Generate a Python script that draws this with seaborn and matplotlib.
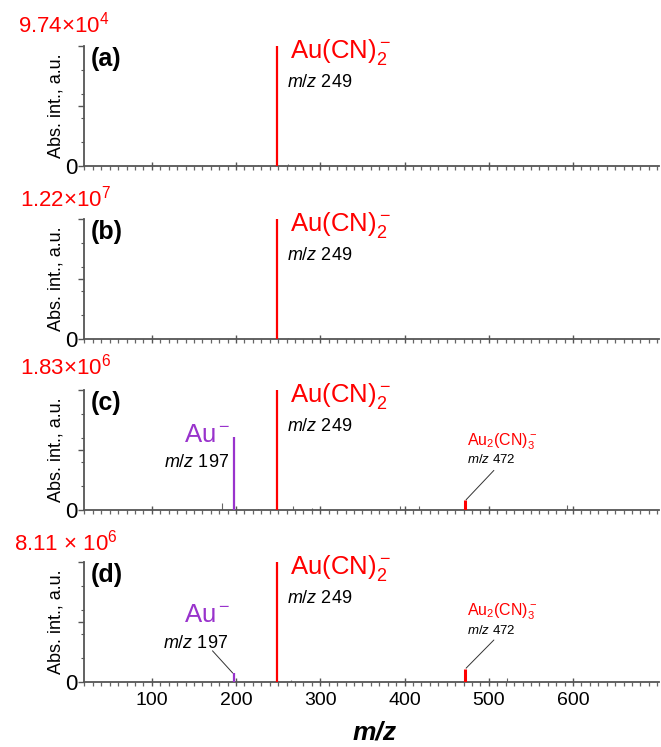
import matplotlib
matplotlib.use("Agg")
import matplotlib.pyplot as plt
import seaborn as sns
import numpy as np
import pandas as pd
from matplotlib.ticker import FixedLocator, NullFormatter, FixedFormatter

# ---------------- data ----------------
panels = ["(a)", "(b)", "(c)", "(d)"]
scales = ["9.74×10$^4$", "1.22×10$^7$", "1.83×10$^6$", "8.11 × 10$^6$"]

main_mz = 249
main_height = [1.0, 1.0, 1.0, 1.0]

au_mz = 197
au_height = [0.0, 0.0, 0.61, 0.075]

au2_mz = 472
au2_height = [0.0, 0.0, 0.083, 0.11]

noise_mz = [
    [200, 226, 262, 275, 300, 330],
    [262, 300],
    [183, 226, 268, 290, 394, 417, 593],
    [183, 265, 300, 522],
]
noise_int = [
    [0.008, 0.008, 0.015, 0.01, 0.008, 0.008],
    [0.006, 0.005],
    [0.06, 0.01, 0.035, 0.015, 0.03, 0.03, 0.04],
    [0.01, 0.02, 0.01, 0.03],
]

xticks = [100, 200, 300, 400, 500, 600]

# ---------------- style ----------------
sns.set_theme(style="ticks")
plt.rcParams["font.family"] = ["Liberation Sans", "DejaVu Sans"]
plt.rcParams["mathtext.fontset"] = "custom"
plt.rcParams["mathtext.rm"] = "Liberation Sans"
plt.rcParams["mathtext.it"] = "Liberation Sans:italic"
plt.rcParams["mathtext.bf"] = "Liberation Sans:bold"
plt.rcParams["text.color"] = "black"
plt.rcParams["xtick.labelcolor"] = "black"
plt.rcParams["ytick.labelcolor"] = "black"

RED = "#FF0000"
PURPLE = "#9933CC"
GRAY = "#555555"

W, H = 661, 747
fig = plt.figure(figsize=(W / 100, H / 100), dpi=100)

left = 84 / W
width = 575 / W
height = 120 / H
bottoms_px = [166, 339, 510, 682]
scale_base_px = [33, 207, 375, 550]
scale_x_px = [18, 20, 20, 14]

for i in range(4):
    ax = fig.add_axes([left, (H - bottoms_px[i]) / H, width, height])
    ax.set_xlim(19.5, 702)
    ax.set_ylim(0, 1.0)
    sns.despine(ax=ax)
    for s in ["left", "bottom"]:
        ax.spines[s].set_color(GRAY)
        ax.spines[s].set_linewidth(1.3)

    # noise peaks
    df = pd.DataFrame({"mz": noise_mz[i], "int": noise_int[i]})
    ax.vlines(df["mz"], 0, df["int"], color="#666666", lw=0.8)

    # main peak
    ax.vlines([main_mz], 0, [main_height[i]], color=RED, lw=1.6, zorder=3)

    ax.text(263.5, 0.90, "Au(CN)$_2^-$", color=RED, fontsize=18.5,
            ha="left", va="baseline")
    ax.text(261, 0.655, "$m/z$ 249", color="black", fontsize=13,
            ha="left", va="baseline")

    if au_height[i] > 0:
        ax.vlines([au_mz], 0, [au_height[i]], color=PURPLE, lw=1.6, zorder=3)
        ax.vlines([au2_mz], 0, [au2_height[i]], color=RED, lw=2.2, zorder=3)
        if i == 2:
            ax.text(193, 0.567, "Au$^-$", color=PURPLE, fontsize=18.5,
                    ha="right", va="baseline")
            ax.text(192, 0.36, "$m/z$ 197", color="black", fontsize=13,
                    ha="right", va="baseline")
            ax.text(474, 0.54, "Au$_2$(CN)$_3^-$", color=RED, fontsize=11.5,
                    ha="left", va="baseline")
            ax.text(474, 0.39, "$m/z$ 472", color="black", fontsize=9.5,
                    ha="left", va="baseline")
            ax.plot([473, 506], [0.085, 0.33], color="#333333", lw=0.7)
        else:
            ax.text(193, 0.50, "Au$^-$", color=PURPLE, fontsize=18.5,
                    ha="right", va="baseline")
            ax.text(191, 0.28, "$m/z$ 197", color="black", fontsize=13,
                    ha="right", va="baseline")
            ax.plot([196, 172], [0.075, 0.26], color="#333333", lw=0.7)
            ax.text(474, 0.55, "Au$_2$(CN)$_3^-$", color=RED, fontsize=11.5,
                    ha="left", va="baseline")
            ax.text(474, 0.40, "$m/z$ 472", color="black", fontsize=9.5,
                    ha="left", va="baseline")
            ax.plot([473, 506], [0.115, 0.35], color="#333333", lw=0.7)

    # panel label
    ax.text(0.012, 0.99, panels[i], transform=ax.transAxes, fontsize=18,
            fontweight="bold", ha="left", va="top", color="black")

    # y label
    ax.text(-0.049, 0.5, "Abs. int., a.u.", transform=ax.transAxes,
            rotation=90, ha="center", va="center", fontsize=13, color="black")

    # scale label
    fig.text(scale_x_px[i] / W, (H - scale_base_px[i]) / H, scales[i],
             color=RED, fontsize=16, ha="left", va="baseline")

    # ticks
    ax.yaxis.set_major_locator(FixedLocator([0, 0.5, 1.0]))
    ax.yaxis.set_major_formatter(FixedFormatter(["0", "", ""]))
    ax.yaxis.set_minor_locator(FixedLocator([0.2, 0.4, 0.6, 0.8]))
    ax.tick_params(axis="y", which="major", length=4, width=1, color=GRAY,
                   labelsize=16, pad=1, labelcolor="black")
    ax.tick_params(axis="y", which="minor", length=2.5, width=0.8,
                   color=GRAY, left=True)

    ax.xaxis.set_major_locator(FixedLocator(xticks))
    ax.xaxis.set_minor_locator(FixedLocator(list(range(20, 701, 10))))
    ax.tick_params(axis="x", which="major", direction="inout", length=6,
                   width=1.0, color=GRAY, labelsize=14, pad=4,
                   labelcolor="black")
    ax.tick_params(axis="x", which="minor", direction="out", length=3,
                   width=0.9, color="#666666", bottom=True)
    if i < 3:
        ax.xaxis.set_major_formatter(NullFormatter())
    else:
        ax.set_xticklabels([str(t) for t in xticks])

fig.text(375 / W, (H - 733) / H, "m/z", fontsize=19, ha="center",
         va="center", fontweight="bold", fontstyle="italic", color="black")

fig.savefig("out.png", dpi=100)
